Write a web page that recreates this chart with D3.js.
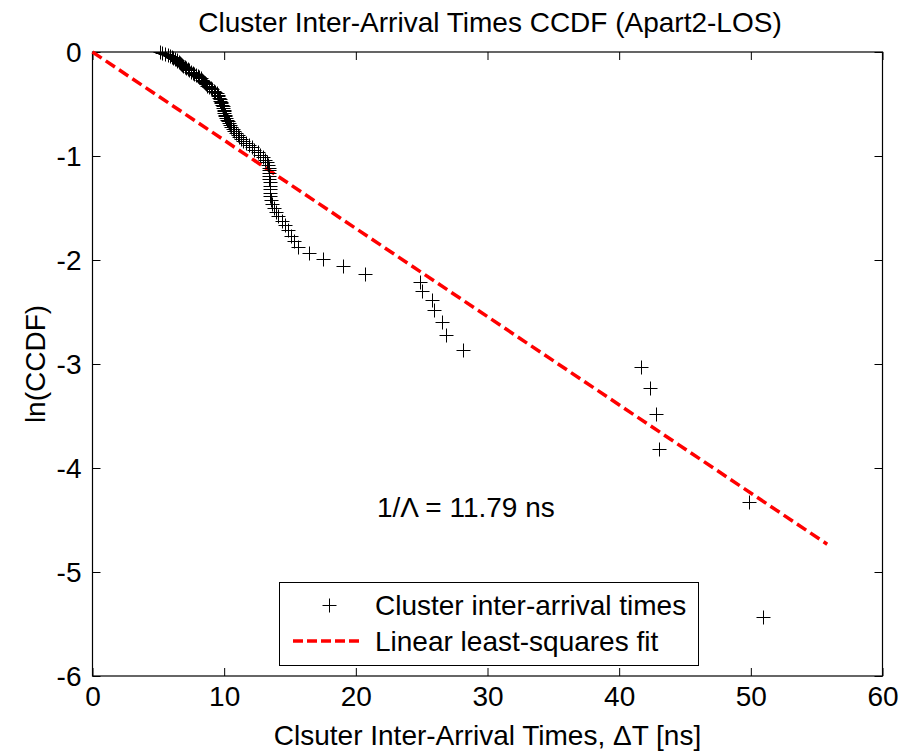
<!DOCTYPE html>
<html><head><meta charset="utf-8">
<script src="https://cdn.jsdelivr.net/npm/d3@7"></script>
<style>
html,body{margin:0;padding:0;background:#fff;}
text{font-family:"Liberation Sans",Arial,sans-serif;fill:#000;}
</style></head>
<body>
<svg id="chart" width="911" height="755"></svg>
<script>
// ---- data ----
const dataX = [5.15,5.3,5.5,5.7,5.85,6.0,6.15,6.3,6.4,6.45,6.55,6.62,6.7,6.78,6.9,7.0,7.1,7.25,7.35,7.5,
7.6,7.7,7.85,8.0,8.1,8.22,8.3,8.4,8.48,8.55,8.63,8.72,8.85,8.97,9.08,9.2,9.3,9.42,9.5,9.55,
9.6,9.65,9.7,9.74,9.78,9.83,9.88,9.92,9.95,9.98,10.01,10.04,10.08,10.12,10.2,10.28,10.37,10.45,10.55,10.65,
10.78,10.9,11.02,11.13,11.3,11.45,11.65,11.85,12.08,12.3,12.55,12.75,12.92,13.07,13.22,13.32,13.38,13.4,13.42,13.43,
13.44,13.45,13.46,13.47,13.48,13.5,13.55,13.63,13.78,13.95,14.12,14.4,14.62,14.85,15.08,15.3,15.6,16.44,17.5,19.02,
20.7,24.87,25.0,25.81,25.96,26.52,26.82,28.16,41.63,42.34,42.77,43.02,49.86,50.95];
const dataY = [-0.004,-0.013,-0.022,-0.031,-0.040,-0.049,-0.059,-0.068,-0.077,-0.087,-0.097,-0.106,-0.116,-0.126,-0.136,-0.146,-0.156,-0.167,-0.177,-0.188,
-0.198,-0.209,-0.220,-0.231,-0.242,-0.253,-0.265,-0.276,-0.288,-0.299,-0.311,-0.323,-0.336,-0.348,-0.360,-0.373,-0.386,-0.399,-0.412,-0.425,
-0.439,-0.453,-0.467,-0.481,-0.495,-0.510,-0.524,-0.539,-0.554,-0.570,-0.585,-0.601,-0.617,-0.634,-0.650,-0.667,-0.685,-0.702,-0.720,-0.738,
-0.757,-0.776,-0.795,-0.814,-0.834,-0.855,-0.876,-0.897,-0.918,-0.941,-0.963,-0.986,-1.010,-1.034,-1.059,-1.085,-1.111,-1.138,-1.166,-1.194,
-1.223,-1.254,-1.285,-1.317,-1.351,-1.386,-1.422,-1.459,-1.498,-1.538,-1.580,-1.623,-1.668,-1.716,-1.766,-1.818,-1.873,-1.933,-1.995,-2.062,
-2.133,-2.21,-2.294,-2.385,-2.485,-2.596,-2.721,-2.864,-3.03,-3.234,-3.485,-3.82,-4.33,-5.43];
const fitX = [0, 55.8];
const fitY = [0, -4.733];
const xTickVals = [0,10,20,30,40,50,60];
const yTickVals = [0,-1,-2,-3,-4,-5,-6];
const titleText = "Cluster Inter-Arrival Times CCDF (Apart2-LOS)";
const xLabelText = "Clsuter Inter-Arrival Times, \u0394T [ns]";
const yLabelText = "ln(CCDF)";
const annotText = "1/\u039B = 11.79 ns";
const legendLabels = ["Cluster inter-arrival times", "Linear least-squares fit"];

// ---- layout ----
const L = 92.5, R = 882.5, T = 52, B = 676;
const FS = 28, FT = 28;
const svg = d3.select("#chart");
const x = d3.scaleLinear().domain([0,60]).range([L,R]);
const y = d3.scaleLinear().domain([-6,0]).range([B,T]);

svg.append("rect").attr("width",911).attr("height",755).attr("fill","#fff");

// axes with inward ticks (MATLAB box style)
const tl = 8;
const axB = svg.append("g").attr("transform",`translate(0,${B})`)
  .call(d3.axisBottom(x).tickValues(xTickVals).tickSizeInner(-tl).tickSizeOuter(0).tickPadding(10));
const axT = svg.append("g").attr("transform",`translate(0,${T})`)
  .call(d3.axisTop(x).tickValues(xTickVals).tickSizeInner(-tl).tickSizeOuter(0).tickFormat(""));
const axL = svg.append("g").attr("transform",`translate(${L},0)`)
  .call(d3.axisLeft(y).tickValues(yTickVals).tickSizeInner(-tl).tickSizeOuter(0).tickPadding(11).tickFormat(d=>String(d).replace("\u2212","-")));
const axR = svg.append("g").attr("transform",`translate(${R},0)`)
  .call(d3.axisRight(y).tickValues(yTickVals).tickSizeInner(-tl).tickSizeOuter(0).tickFormat(""));
[axB,axT,axL,axR].forEach(g=>{
  g.selectAll(".domain").remove();
  g.selectAll("line").attr("stroke","#000").attr("stroke-width",1);
  g.selectAll("text").style("font-size",FS+"px").attr("font-family",null);
});
axB.selectAll("text").attr("dy","0.71em");
axL.selectAll("text").attr("dy","0.35em");
svg.append("rect").attr("x",L).attr("y",T).attr("width",R-L).attr("height",B-T)
  .attr("fill","none").attr("stroke","#000").attr("stroke-width",1.2);

// fit line
const line = d3.line().x(d=>x(d[0])).y(d=>y(d[1]));
svg.append("path").datum(fitX.map((v,i)=>[v,fitY[i]]))
  .attr("d",line).attr("fill","none").attr("stroke","#ff0000")
  .attr("stroke-width",3.5).attr("stroke-dasharray","11,5");

// data markers (+)
const ms = 7;
const pts = svg.append("g");
dataX.forEach((v,i)=>{
  const cx = Math.round(x(v))+0.5, cy = Math.round(y(dataY[i]))+0.5;
  pts.append("path").attr("d",`M${cx-ms},${cy}H${cx+ms}M${cx},${cy-ms}V${cy+ms}`)
    .attr("stroke","#000").attr("stroke-width",1).attr("fill","none");
});

// annotation
svg.append("text").attr("x",377).attr("y",y(-4.38)).attr("dy","0.35em")
  .style("font-size",FS+"px").text(annotText);

// legend
const lg = svg.append("g");
lg.append("rect").attr("x",279.5).attr("y",582.5).attr("width",419).attr("height",83)
  .attr("fill","#fff").attr("stroke","#000").attr("stroke-width",1);
const lmx = 329.5, lmy = 605.5;
lg.append("path").attr("d",`M${lmx-ms},${lmy}H${lmx+ms}M${lmx},${lmy-ms}V${lmy+ms}`)
  .attr("stroke","#000").attr("stroke-width",1);
lg.append("line").attr("x1",293).attr("x2",362).attr("y1",641).attr("y2",641)
  .attr("stroke","#ff0000").attr("stroke-width",3.5).attr("stroke-dasharray","10,4");
lg.append("text").attr("x",375).attr("y",605).attr("dy","0.35em").style("font-size",FS+"px").text(legendLabels[0]);
lg.append("text").attr("x",375).attr("y",641).attr("dy","0.35em").style("font-size",FS+"px").text(legendLabels[1]);

// titles
svg.append("text").attr("x",490).attr("y",22).attr("dy","0.35em").attr("text-anchor","middle")
  .style("font-size",FT+"px").text(titleText);
svg.append("text").attr("x",(L+R)/2).attr("y",735).attr("dy","0.35em").attr("text-anchor","middle")
  .style("font-size",FS+"px").text(xLabelText);
svg.append("text").attr("transform",`translate(35,${(T+B)/2}) rotate(-90)`).attr("dy","0.35em")
  .attr("text-anchor","middle").style("font-size",FS+"px").text(yLabelText);
</script>
</body></html>
